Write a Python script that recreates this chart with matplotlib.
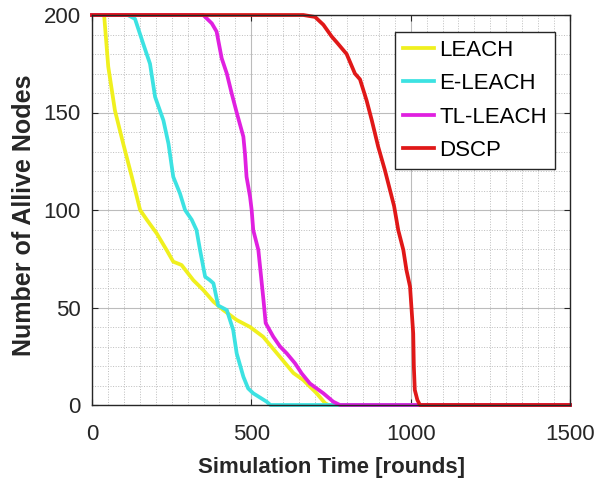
import matplotlib.pyplot as plt
from matplotlib.ticker import MultipleLocator

plt.rcParams['font.family'] = ['Liberation Sans', 'DejaVu Sans']

# 各协议存活节点数
leach_x = [0, 38, 51, 72, 98, 125, 151, 172, 203, 234, 255, 281, 318, 349, 381, 412, 454, 496, 537, 580, 632, 663, 705, 731, 742, 1500]
leach_y = [200, 200, 173.5, 151, 134, 117, 100, 95, 88, 79.5, 73.5, 71.8, 64, 59, 53, 48.7, 43.6, 40, 35, 26.6, 16.4, 12.8, 6, 1, 0, 0]

eleach_x = [0, 112, 135, 160, 182, 198, 224, 240, 255, 276, 292, 313, 328, 339, 355, 370, 381, 396, 423, 443, 454, 475, 490, 506, 548, 560, 1500]
eleach_y = [200, 200, 198, 185.6, 175, 158, 146, 134, 117, 108.5, 100, 95, 89.7, 79.5, 65.8, 64, 62.4, 51, 48.7, 38.5, 26.5, 14.5, 8.5, 6, 1.7, 0, 0]

tlleach_x = [0, 349, 376, 391, 407, 423, 438, 454, 475, 480, 485, 496, 501, 506, 522, 538, 545, 569, 590, 611, 637, 658, 684, 726, 757, 778, 1500]
tlleach_y = [200, 200, 195.7, 191.5, 177.8, 170, 160, 150, 137.6, 129, 117, 106.8, 100, 89.7, 79.5, 54, 42, 35, 30, 26.5, 21.4, 16.2, 11, 6, 1.7, 0, 0]

dscp_x = [0, 663, 700, 726, 752, 768, 799, 825, 841, 862, 878, 898, 919, 948, 961, 977, 987, 998, 1003, 1008, 1010, 1013, 1021, 1029, 1500]
dscp_y = [200, 200, 199, 195, 189, 186, 180, 170, 167, 156, 146, 132.5, 120.5, 102, 89.7, 79.5, 69, 60.7, 48.7, 36.7, 19.6, 7.7, 2.6, 0, 0]

fig = plt.figure(figsize=(6.06, 4.83), dpi=100)
ax = fig.add_axes([92/606, 78/483, 478/606, 390/483])

lw = 2.7
ax.plot(leach_x, leach_y, color='#f0f01e', linewidth=lw, label='LEACH', clip_on=False)
ax.plot(eleach_x, eleach_y, color='#3ce2e2', linewidth=lw, label='E-LEACH', clip_on=False)
ax.plot(tlleach_x, tlleach_y, color='#e020e0', linewidth=lw, label='TL-LEACH', clip_on=False)
ax.plot(dscp_x, dscp_y, color='#e01818', linewidth=lw, label='DSCP', clip_on=False)

ax.set_xlim(0, 1500)
ax.set_ylim(0, 200)
ax.xaxis.set_major_locator(MultipleLocator(500))
ax.xaxis.set_minor_locator(MultipleLocator(50))
ax.yaxis.set_major_locator(MultipleLocator(50))
ax.yaxis.set_minor_locator(MultipleLocator(10))

ax.grid(which='major', color='#bcbcbc', linewidth=0.8)
ax.grid(which='minor', color='#bdbdbd', linestyle=':', linewidth=0.7)
ax.set_axisbelow(True)

ax.tick_params(which='both', direction='in', top=True, right=True)
ax.tick_params(which='minor', length=0)
ax.tick_params(which='major', length=4, labelsize=16, colors='#262626')
ax.tick_params(axis='x', pad=14)
ax.tick_params(axis='y', pad=8)
for s in ax.spines.values():
    s.set_color('#262626')
    s.set_linewidth(1.0)

ax.set_xlabel('Simulation Time [rounds]', fontsize=16, fontweight='bold', color='#262626', va='center')
ax.xaxis.set_label_coords(0.5, (405 - 467) / 390)
ax.set_ylabel('Number of Allive Nodes', fontsize=18, fontweight='bold', color='#262626', va='center')
ax.yaxis.set_label_coords((24 - 92) / 478, (405 - 215) / 390)

leg = ax.legend(loc='upper right', bbox_to_anchor=(555/606, 1 - 32/483), bbox_transform=fig.transFigure,
                borderaxespad=0, fontsize=16, fancybox=False, framealpha=1, edgecolor='#262626',
                handlelength=1.4, handletextpad=0.25, borderpad=0.35, labelspacing=0.56)
leg.get_frame().set_linewidth(1.0)

plt.savefig('out.png', dpi=100)
